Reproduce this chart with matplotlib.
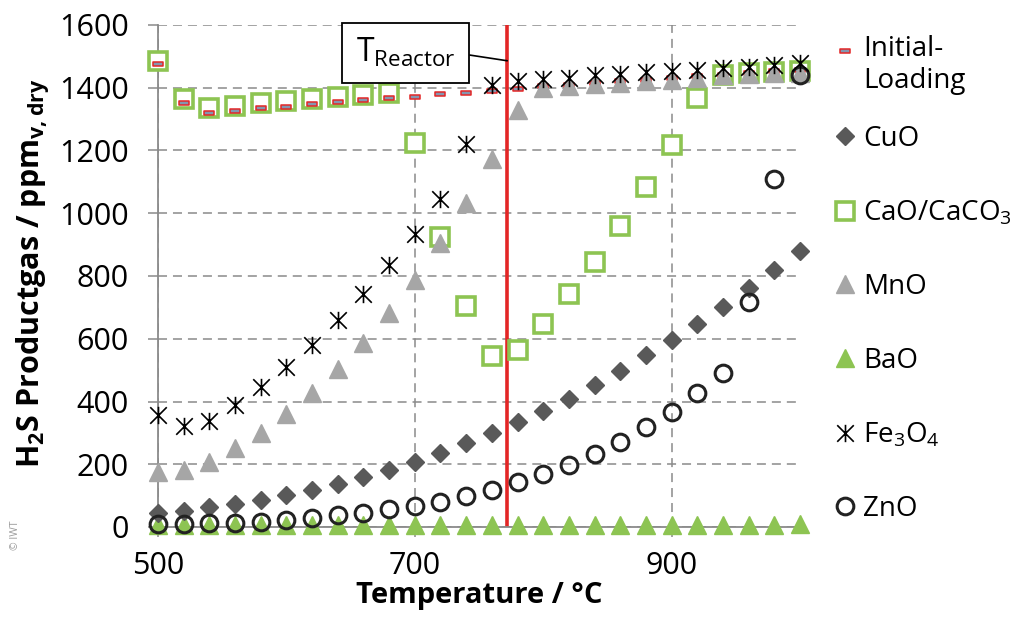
import matplotlib
matplotlib.use("Agg")
import matplotlib.pyplot as plt
from matplotlib.path import Path
from matplotlib.legend_handler import HandlerLine2D

plt.rcParams['font.family'] = ['Open Sans', 'DejaVu Sans']
plt.rcParams['mathtext.default'] = 'regular'

temperature = [500, 520, 540, 560, 580, 600, 620, 640, 660, 680, 700, 720, 740,
               760, 780, 800, 820, 840, 860, 880, 900, 920, 940, 960, 980, 1000]

initial_loading = [1475, 1352, 1318, 1326, 1334, 1340, 1347, 1355, 1362, 1368, 1372, 1379, 1384,
                   1390, 1396, 1404, 1408, 1414, 1420, 1425, 1432, 1437, 1442, 1447, 1452, 1456]
cuo = [44, 52, 65, 73, 86, 102, 118, 137, 158, 182, 208, 235, 267,
       299, 336, 371, 408, 453, 497, 547, 596, 646, 702, 761, 819, 880]
cao_caco3 = [1486, 1365, 1335, 1342, 1350, 1357, 1363, 1370, 1378, 1384, 1225, 923, 704,
             545, 563, 647, 742, 845, 958, 1084, 1218, 1367, 1441, 1446, 1449, 1452]
mno = [176, 182, 206, 251, 301, 359, 428, 503, 585, 681, 787, 904, 1033,
       1173, 1329, 1398, 1406, 1412, 1416, 1420, 1425, 1430, 1441, 1443, 1446, 1446]
bao = [5, 5, 5, 5, 5, 5, 5, 5, 5, 5, 5, 5, 5,
       5, 5, 5, 5, 5, 5, 5, 5, 5, 6, 6, 7, 8]
fe3o4 = [357, 322, 338, 389, 446, 510, 580, 660, 743, 835, 934, 1044, 1221,
         1408, 1421, 1427, 1432, 1440, 1445, 1449, 1453, 1456, 1464, 1466, 1472, 1480]
zno = [10, 8, 12, 14, 17, 22, 30, 37, 46, 56, 67, 81, 99,
       118, 142, 169, 198, 233, 272, 318, 368, 428, 492, 716, 1109, 1441]

reactor_temperature = 772
x_ticks = [500, 700, 900]
y_ticks = [0, 200, 400, 600, 800, 1000, 1200, 1400, 1600]

GREEN = '#8dc452'
DARK = '#595959'
LIGHT = '#a6a6a6'
RED = '#e32626'
GRID = '#8a8a8a'

asterisk = Path([(-1, -1), (1, 1), (-1, 1), (1, -1), (0, -1.05), (0, 1.05)],
                [Path.MOVETO, Path.LINETO, Path.MOVETO, Path.LINETO, Path.MOVETO, Path.LINETO])
rect = Path([(-1, -0.45), (1, -0.45), (1, 0.45), (-1, 0.45), (-1, -0.45)],
            [Path.MOVETO, Path.LINETO, Path.LINETO, Path.LINETO, Path.CLOSEPOLY])

fig = plt.figure(figsize=(10.17, 6.22), dpi=100)
ax = fig.add_axes([158 / 1017, 1 - 527 / 622, (800 - 158) / 1017, (527 - 25) / 622])

ax.set_xlim(500, 1000)
ax.set_ylim(0, 1600)
ax.set_xticks(x_ticks)
ax.set_yticks(y_ticks)
ax.grid(True, color=GRID, lw=1.1, linestyle=(0, (5.9, 3.9)), zorder=0)
ax.set_axisbelow(True)
for s in ['top', 'right']:
    ax.spines[s].set_visible(False)
for s in ['left', 'bottom']:
    ax.spines[s].set_color(GRID)
    ax.spines[s].set_linewidth(1.3)
ax.tick_params(axis='both', colors=GRID, length=7, width=1.1, labelsize=22,
               labelcolor='black', pad=14)
ax.tick_params(axis='x', pad=10)

ax.axvline(reactor_temperature, color=RED, lw=2.6, zorder=2)

kw = dict(linestyle='none', clip_on=False)
h_bao, = ax.plot(temperature, bao, marker='^', ms=12.5, color=GREEN, mec=GREEN, zorder=3, **kw)
h_cuo, = ax.plot(temperature, cuo, marker='D', ms=9.5, color=DARK, mec=DARK, zorder=3, **kw)
h_cao, = ax.plot(temperature, cao_caco3, marker='s', ms=12.5, mfc='white', mec=GREEN, mew=2.6,
                 zorder=4, **kw)
h_init, = ax.plot(temperature, initial_loading, marker=rect, ms=6.5, mfc='#8496b0', mec=RED,
                  mew=1.1, zorder=5, **kw)
h_mno, = ax.plot(temperature, mno, marker='^', ms=12.5, color=LIGHT, mec=LIGHT, zorder=6, **kw)
h_zno, = ax.plot(temperature, zno, marker='o', ms=12, mfc='none', mec='#222222', mew=2.2,
                 zorder=7, **kw)
h_fe, = ax.plot(temperature, fe3o4, marker=asterisk, ms=12.5, color='black', mec='black',
                mew=1.2, zorder=8, **kw)

ax.annotate('T$_{Reactor}$', xy=(reactor_temperature, 1486), xytext=(693, 1511),
            textcoords='data', ha='center', va='center', fontsize=23, zorder=9,
            bbox=dict(boxstyle='square,pad=0.42', fc='white', ec='black', lw=1.3),
            arrowprops=dict(arrowstyle='-', color='black', lw=1.2, relpos=(1, 0.5),
                            shrinkA=0, shrinkB=0))

ax.set_xlabel('Temperature / °C', fontsize=21, fontweight='bold', labelpad=0)
ax.set_ylabel('H$_2$S Productgas / ppm$_{v,dry}$', fontsize=22, fontweight='bold')
ax.yaxis.set_label_coords(-0.165, 0.505)


class TopHandler(HandlerLine2D):
    def create_artists(self, legend, orig_handle, xdescent, ydescent, width, height,
                       fontsize, trans):
        arts = super().create_artists(legend, orig_handle, xdescent, ydescent, width,
                                      height, fontsize, trans)
        for a in arts:
            a.set_ydata([y + 11 for y in a.get_ydata()])
        return arts


leg_kw = dict(loc='upper left', frameon=False, fontsize=20, handlelength=0.8,
              handletextpad=0.25, borderpad=0, borderaxespad=0, numpoints=1)
fig.legend([h_init], ['Initial-\nLoading'], bbox_to_anchor=(834 / 1017, 1 - 35 / 622),
           handler_map={h_init: TopHandler(numpoints=1)}, **leg_kw)
fig.legend([h_cuo, h_cao, h_mno, h_bao, h_fe, h_zno],
           ['CuO', 'CaO/CaCO$_3$', 'MnO', 'BaO', 'Fe$_3$O$_4$', 'ZnO'],
           bbox_to_anchor=(834 / 1017, 1 - 125 / 622), labelspacing=1.65, **leg_kw)

fig.text(16 / 1017, 1 - 535 / 622, '© IWT', rotation=90, fontsize=7.5, color='#9a9a9a',
         ha='center', va='center')

fig.savefig('out.png', dpi=100)
